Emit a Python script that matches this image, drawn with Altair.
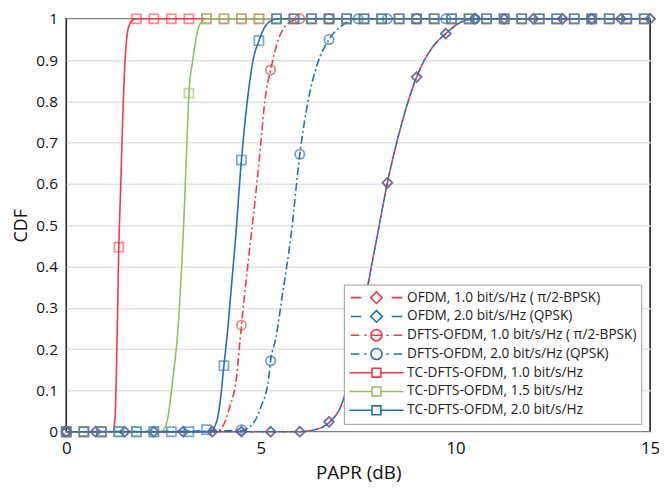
import altair as alt
import pandas as pd

SERIES = [
    "OFDM, 1.0 bit/s/Hz ( π/2-BPSK)",
    "OFDM, 2.0 bit/s/Hz (QPSK)",
    "DFTS-OFDM, 1.0 bit/s/Hz ( π/2-BPSK)",
    "DFTS-OFDM, 2.0 bit/s/Hz (QPSK)",
    "TC-DFTS-OFDM, 1.0 bit/s/Hz",
    "TC-DFTS-OFDM, 1.5 bit/s/Hz",
    "TC-DFTS-OFDM, 2.0 bit/s/Hz",
]
COLORS = ["#ee3b45", "#1f6fba", "#ee3b45", "#1f6fba", "#ee3b45", "#93c05a", "#1f6fba"]
MARKERS = ["diamond", "diamond", "circle", "circle", "square", "square", "square"]
DASHES = [[7, 4], [7, 4], [8, 3, 2, 3], [8, 3, 2, 3], [1, 0], [1, 0], [1, 0]]

# ---- curve traces ----
OFDM1_X = [0, 6.0, 6.3, 6.6, 6.77, 7.07, 7.4, 7.75, 8.0, 8.25, 8.6, 9.0, 9.4, 9.75, 10.1, 10.5, 15]
OFDM1_Y = [0, 0, 0.003, 0.012, 0.024, 0.065, 0.18, 0.356, 0.48, 0.603, 0.74, 0.859, 0.93, 0.964, 0.99, 1, 1]
OFDM2_X = [0, 6.0, 6.3, 6.6, 6.77, 7.07, 7.4, 7.75, 8.0, 8.25, 8.6, 9.0, 9.4, 9.75, 10.1, 10.5, 15]
OFDM2_Y = [0, 0, 0.003, 0.012, 0.024, 0.065, 0.18, 0.356, 0.48, 0.603, 0.74, 0.859, 0.93, 0.964, 0.99, 1, 1]
DFTS1_X = [0, 3.85, 4.0, 4.2, 4.37, 4.5, 4.66, 4.85, 5.0, 5.1, 5.25, 5.45, 5.65, 5.9, 6.1, 15]
DFTS1_Y = [0, 0, 0.01, 0.06, 0.13, 0.258, 0.4, 0.56, 0.7, 0.8, 0.876, 0.95, 0.985, 0.998, 1, 1]
DFTS2_X = [0, 4.5, 4.8, 5.0, 5.2, 5.25, 5.38, 5.55, 5.78, 6.0, 6.21, 6.45, 6.75, 7.1, 7.5, 15]
DFTS2_Y = [0, 0.003, 0.02, 0.06, 0.13, 0.172, 0.225, 0.33, 0.48, 0.672, 0.8, 0.89, 0.95, 0.985, 1, 1]
TC1_X = [0, 1.2, 1.25, 1.3, 1.35, 1.4, 1.45, 1.5, 1.55, 1.62, 1.72, 1.85, 15]
TC1_Y = [0, 0, 0.03, 0.2, 0.447, 0.6, 0.76, 0.88, 0.95, 0.985, 0.998, 1, 1]
TC15_X = [0, 2.4, 2.5, 2.6, 2.74, 2.87, 3.0, 3.1, 3.15, 3.25, 3.35, 3.45, 3.6, 15]
TC15_Y = [0, 0, 0.005, 0.03, 0.13, 0.25, 0.47, 0.7, 0.82, 0.9, 0.96, 0.99, 1, 1]
TC2_X = [0, 3.7, 3.8, 3.9, 3.95, 4.05, 4.15, 4.25, 4.35, 4.5, 4.65, 4.8, 4.95, 5.1, 5.3, 5.45, 15]
TC2_Y = [0, 0, 0.01, 0.04, 0.07, 0.16, 0.25, 0.36, 0.47, 0.658, 0.8, 0.9, 0.947, 0.98, 0.997, 1, 1]

# ---- marker positions ----
DIAMOND_X = [0, 0.75, 1.5, 2.25, 3.0, 3.75, 4.5, 5.25, 6.0, 6.75, 7.5, 8.25, 9.0, 9.75,
             10.5, 11.25, 12.0, 12.75, 13.5, 14.25, 15.0]
DIAMOND_Y = [0, 0, 0, 0, 0, 0, 0, 0, 0, 0.024, 0.22, 0.603, 0.859, 0.964,
             1, 1, 1, 1, 1, 1, 1]
CIRC1_X = [0, 4.5, 5.25, 6.0, 6.75, 9.0]
CIRC1_Y = [0, 0.258, 0.876, 1, 1, 1]
CIRC2_X = [0, 4.5, 5.25, 6.0, 6.75, 7.5, 8.25, 9.0, 9.75, 10.5, 13.5]
CIRC2_Y = [0, 0.005, 0.172, 0.672, 0.95, 1, 1, 1, 1, 1, 1]
SQ_X = [0, 0.45, 0.9, 1.35, 1.8, 2.25, 2.7, 3.15, 3.6, 4.05, 4.5, 4.95, 5.4, 5.85, 6.3, 6.75,
        7.2, 7.65, 8.1, 8.55, 9.0, 9.45, 9.9, 10.35, 10.8, 11.25, 11.7, 12.15, 12.6, 13.05,
        13.5, 13.95, 14.4, 14.85]
SQ1_Y = [0, 0, 0, 0.447, 1, 1, 1, 1, 1, 1, 1, 1, 1, 1, 1, 1,
         1, 1, 1, 1, 1, 1, 1, 1, 1, 1, 1, 1, 1, 1, 1, 1, 1, 1]
SQ15_X = [0, 0.45, 0.9, 1.35, 1.8, 2.25, 3.15, 3.6, 4.05, 4.5, 4.95, 5.4, 5.85, 6.3, 6.75,
          7.2, 7.65, 8.1, 8.55, 9.0, 9.45, 9.9, 10.35, 10.8, 11.25, 11.7, 12.15, 12.6, 13.05,
          13.5, 13.95, 14.4, 14.85]
SQ15_Y = [0, 0, 0, 0, 0, 0, 0.82, 1, 1, 1, 1, 1, 1, 1, 1,
          1, 1, 1, 1, 1, 1, 1, 1, 1, 1, 1, 1, 1, 1, 1, 1, 1, 1]
SQ2_Y = [0, 0, 0, 0, 0, 0, 0, 0, 0.005, 0.16, 0.658, 0.947, 1, 1, 1, 1,
         1, 1, 1, 1, 1, 1, 1, 1, 1, 1, 1, 1, 1, 1, 1, 1, 1, 1]

LINES = [(OFDM1_X, OFDM1_Y), (OFDM2_X, OFDM2_Y), (DFTS1_X, DFTS1_Y), (DFTS2_X, DFTS2_Y),
         (TC1_X, TC1_Y), (TC15_X, TC15_Y), (TC2_X, TC2_Y)]
MARKS = [(DIAMOND_X, DIAMOND_Y), (DIAMOND_X, DIAMOND_Y), (CIRC1_X, CIRC1_Y), (CIRC2_X, CIRC2_Y),
         (SQ_X, SQ1_Y), (SQ15_X, SQ15_Y), (SQ_X, SQ2_Y)]
MARK_SIZE = {"diamond": 100, "circle": 90, "square": 85}

# legend glyphs: line style + marker, as symbol paths
P_OFDM = "M-0.93,0H-0.55M0.55,0H0.93M0,-0.21L0.21,0L0,0.21L-0.21,0Z"
P_DFTS = ("M-0.93,0H-0.62M-0.44,0H-0.36M0.2,0A0.2,0.2,0,1,1,-0.2,0A0.2,0.2,0,1,1,0.2,0"
          "M0.36,0H0.44M0.62,0H0.93")
P_DFTS_R = P_DFTS + "M-0.2,0H0.2"
P_TC = "M-0.98,0H-0.16M0.16,0H0.98M-0.16,-0.16H0.16V0.16H-0.16Z"
LEGEND_PATHS = [P_OFDM, P_OFDM, P_DFTS_R, P_DFTS, P_TC, P_TC, P_TC]

FONT = "Open Sans"

xscale = alt.Scale(domain=[0, 15], nice=False, zero=False)
yscale = alt.Scale(domain=[0, 1], nice=False)
xaxis = alt.Axis(values=[0, 5, 10, 15], grid=False, ticks=False, domain=False,
                 labelFontSize=17, labelPadding=9, labelColor="#111",
                 title="PAPR (dB)", titleFontSize=19, titleFontWeight="normal",
                 titleColor="#111", titlePadding=7, labelFlush=False)
yaxis = alt.Axis(values=[0, 0.1, 0.2, 0.3, 0.4, 0.5, 0.6, 0.7, 0.8, 0.9, 1], format="~g",
                 grid=True, gridColor="#e2e2e2", gridWidth=1.5, ticks=False, domain=False,
                 labelFontSize=15.5, labelPadding=9, labelColor="#111",
                 title="CDF", titleFontSize=18, titleFontWeight="normal",
                 titleColor="#111", titlePadding=5)

layers = []
for i, name in enumerate(SERIES):
    lx, ly = LINES[i]
    df = pd.DataFrame({"x": lx, "y": ly, "series": name})
    layers.append(
        alt.Chart(df).mark_line(
            strokeDash=DASHES[i], strokeWidth=1.6, interpolate="monotone",
            strokeDashOffset=(5 if i == 1 else 0)
        ).encode(
            x=alt.X("x:Q", scale=xscale, axis=xaxis),
            y=alt.Y("y:Q", scale=yscale, axis=yaxis),
            color=alt.value(COLORS[i]),
        )
    )

for i, name in enumerate(SERIES):
    mx, my = MARKS[i]
    df = pd.DataFrame({"x": mx, "y": my, "series": name})
    layers.append(
        alt.Chart(df).mark_point(
            shape=MARKERS[i], filled=False, size=MARK_SIZE[MARKERS[i]],
            strokeWidth=1.7, strokeOpacity=(0.85 if MARKERS[i] == "square" else 0.95)
        ).encode(
            x=alt.X("x:Q", scale=xscale, axis=xaxis),
            y=alt.Y("y:Q", scale=yscale, axis=yaxis),
            color=alt.value(COLORS[i]),
        )
    )

# legend-only layer (invisible marks, visible legend)
leg_df = pd.DataFrame({"series": SERIES})
legend = alt.Legend(
    title=None, orient="none", legendX=281, legendY=269,
    symbolSize=3136, clipHeight=18.5, rowPadding=0, labelOffset=2, padding=4,
    strokeColor="#9a9a9a", fillColor="white", labelFontSize=13.8, labelFont=FONT,
    labelColor="#222", symbolStrokeWidth=1.6, symbolOpacity=1, labelLimit=400,
)
layers.append(
    alt.Chart(leg_df).mark_point(filled=False, opacity=0).encode(
        color=alt.Color("series:N", scale=alt.Scale(domain=SERIES, range=COLORS), legend=legend),
        shape=alt.Shape("series:N", scale=alt.Scale(domain=SERIES, range=LEGEND_PATHS), legend=legend),
    )
)

chart = alt.layer(*layers).properties(
    width=591, height=418,
    autosize=alt.AutoSizeParams(type="none"),
    padding={"left": 59, "top": 8, "right": 9, "bottom": 55},
).configure(font=FONT).configure_view(stroke="#222", strokeWidth=1.6)

chart.save("out.html", embed_options={"renderer": "svg", "actions": False})
